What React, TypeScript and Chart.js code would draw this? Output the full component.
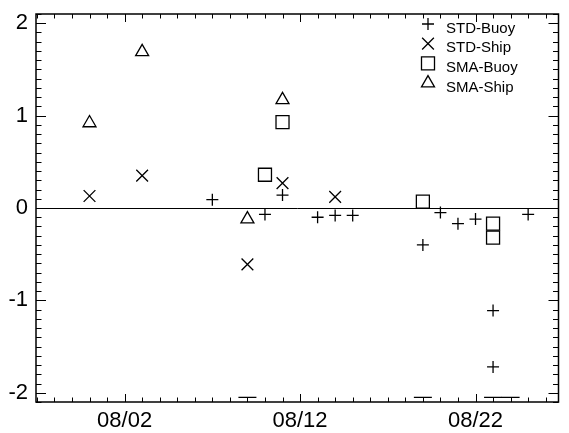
import React, { useEffect, useRef } from "react";
import { Chart, registerables } from "chart.js";
import { drawPoint } from "chart.js/helpers";

Chart.register(...registerables);

// x values are days of August (0 = 07/31)
const stdBuoyDays = [7, 10, 11, 13, 14, 15, 19, 20, 21, 22, 23, 23, 25];
const stdBuoyValues = [0.09, -0.07, 0.14, -0.1, -0.08, -0.08, -0.4, -0.05, -0.17, -0.12, -1.11, -1.72, -0.07];
const stdShipDays = [0, 3, 9, 11, 14];
const stdShipValues = [0.13, 0.35, -0.61, 0.27, 0.12];
const smaBuoyDays = [10, 11, 19, 23, 23];
const smaBuoyValues = [0.36, 0.93, 0.07, -0.17, -0.32];
const smaShipDays = [0, 3, 9, 11];
const smaShipValues = [0.92, 1.69, -0.12, 1.17];
const offScaleDays = [9, 19, 23, 24];
const offScaleValues = [-2.05, -2.05, -2.05, -2.05];

const seriesLabels = ["STD-Buoy", "STD-Ship", "SMA-Buoy", "SMA-Ship"];
const xTickDays = [2, 12, 22];
const xTickLabels = ["08/02", "08/12", "08/22"];
const yTickValues = [-2, -1, 0, 1, 2];
const xRange = [-3.05, 26.73];
const yRange = [-2.1, 2.1];

const FONT = "'Liberation Sans', Arial, Helvetica, sans-serif";

const toPoints = (xs: number[], ys: number[]) => xs.map((x, i) => ({ x, y: ys[i] }));

const zeroPad = (s: any) => {
  s.paddingTop = 0;
  s.paddingBottom = 0;
  s.paddingLeft = 0;
  s.paddingRight = 0;
};

const framePlugin = {
  id: "frameAndTicks",
  afterDraw(chart: any) {
    const { ctx, chartArea } = chart;
    const xs = chart.scales.x;
    const ys = chart.scales.y;
    const { left, right, top, bottom } = chartArea;
    ctx.save();
    ctx.strokeStyle = "#000";
    ctx.lineWidth = 1;
    ctx.beginPath();
    for (let d = Math.ceil(xRange[0]); d <= Math.floor(xRange[1]); d++) {
      const px = Math.round(xs.getPixelForValue(d)) + 0.5;
      const len = xTickDays.includes(d) ? 8 : 4.5;
      ctx.moveTo(px, bottom);
      ctx.lineTo(px, bottom - len);
      ctx.moveTo(px, top);
      ctx.lineTo(px, top + len);
    }
    for (let k = Math.ceil(yRange[0] * 10); k <= Math.floor(yRange[1] * 10); k++) {
      const v = k / 10;
      const py = Math.round(ys.getPixelForValue(v)) + 0.5;
      const len = k % 10 === 0 ? 10 : 5.5;
      ctx.moveTo(left, py);
      ctx.lineTo(left + len, py);
      ctx.moveTo(right, py);
      ctx.lineTo(right - len, py);
    }
    ctx.stroke();
    ctx.lineWidth = 1.5;
    ctx.strokeRect(left, top, right - left, bottom - top);

    // legend
    for (let i = 0; i < seriesLabels.length; i++) {
      const ds = chart.data.datasets[i];
      const sy = 24 + i * 19.7;
      ctx.strokeStyle = "#000";
      ctx.fillStyle = "rgba(0,0,0,0)";
      ctx.lineWidth = 1.3;
      drawPoint(ctx, { pointStyle: ds.pointStyle, rotation: 0, radius: ds.pointRadius, borderWidth: 1.3 }, 428, sy);
      ctx.fillStyle = "#000";
      ctx.font = `15px ${FONT}`;
      ctx.textBaseline = "middle";
      ctx.textAlign = "left";
      ctx.fillText(seriesLabels[i], 446, sy + 4.5);
    }
    ctx.restore();
  },
};

export default function App() {
  const ref = useRef<HTMLCanvasElement | null>(null);
  useEffect(() => {
    document.body.style.margin = "0";
    const common = {
      showLine: false,
      borderColor: "#000",
      backgroundColor: "rgba(0,0,0,0)",
      pointBorderWidth: 1.3,
      pointHoverBorderWidth: 1.3,
    };
    const chart = new Chart(ref.current as HTMLCanvasElement, {
      type: "scatter",
      data: {
        datasets: [
          { ...common, label: seriesLabels[0], data: toPoints(stdBuoyDays, stdBuoyValues), pointStyle: "cross", pointRadius: 6, pointHoverRadius: 6 },
          { ...common, label: seriesLabels[1], data: toPoints(stdShipDays, stdShipValues), pointStyle: "crossRot", pointRadius: 8.3, pointHoverRadius: 8.3 },
          { ...common, label: seriesLabels[2], data: toPoints(smaBuoyDays, smaBuoyValues), pointStyle: "rect", pointRadius: 9.2, pointHoverRadius: 9.2 },
          { ...common, label: seriesLabels[3], data: toPoints(smaShipDays, smaShipValues), pointStyle: "triangle", pointRadius: 7.5, pointHoverRadius: 7.5 },
          { ...common, label: "off-scale", data: toPoints(offScaleDays, offScaleValues), pointStyle: "line", pointRadius: 9, pointHoverRadius: 9 },
        ] as any,
      },
      options: {
        animation: false,
        responsive: false,
        events: [],
        layout: { padding: { top: 14, right: 4, left: 0, bottom: 0 } },
        plugins: { legend: { display: false }, tooltip: { enabled: false } },
        scales: {
          x: {
            type: "linear",
            min: xRange[0],
            max: xRange[1],
            afterFit: (s: any) => { s.height = 31; zeroPad(s); },
            afterBuildTicks: (s: any) => { s.ticks = xTickDays.map((v) => ({ value: v })); },
            grid: { display: false, drawTicks: false },
            border: { display: false },
            ticks: {
              autoSkip: false,
              maxRotation: 0,
              padding: 6,
              color: "#000",
              font: { family: FONT, size: 22 },
              callback: (v: any) => {
                const i = xTickDays.indexOf(Number(v));
                return i >= 0 ? xTickLabels[i] : "";
              },
            },
          },
          y: {
            type: "linear",
            min: yRange[0],
            max: yRange[1],
            afterFit: (s: any) => { s.width = 36; zeroPad(s); },
            afterBuildTicks: (s: any) => { s.ticks = yTickValues.map((v) => ({ value: v })); },
            grid: {
              drawTicks: false,
              lineWidth: 1,
              color: (c: any) => (c.tick && c.tick.value === 0 ? "#000" : "rgba(0,0,0,0)"),
            },
            border: { display: false },
            ticks: {
              padding: 8,
              color: "#000",
              font: { family: FONT, size: 22 },
              callback: (v: any) => String(v),
            },
          },
        },
      },
      plugins: [framePlugin],
    });
    return () => chart.destroy();
  }, []);
  return <canvas ref={ref} width={569} height={433} style={{ display: "block" }} />;
}
